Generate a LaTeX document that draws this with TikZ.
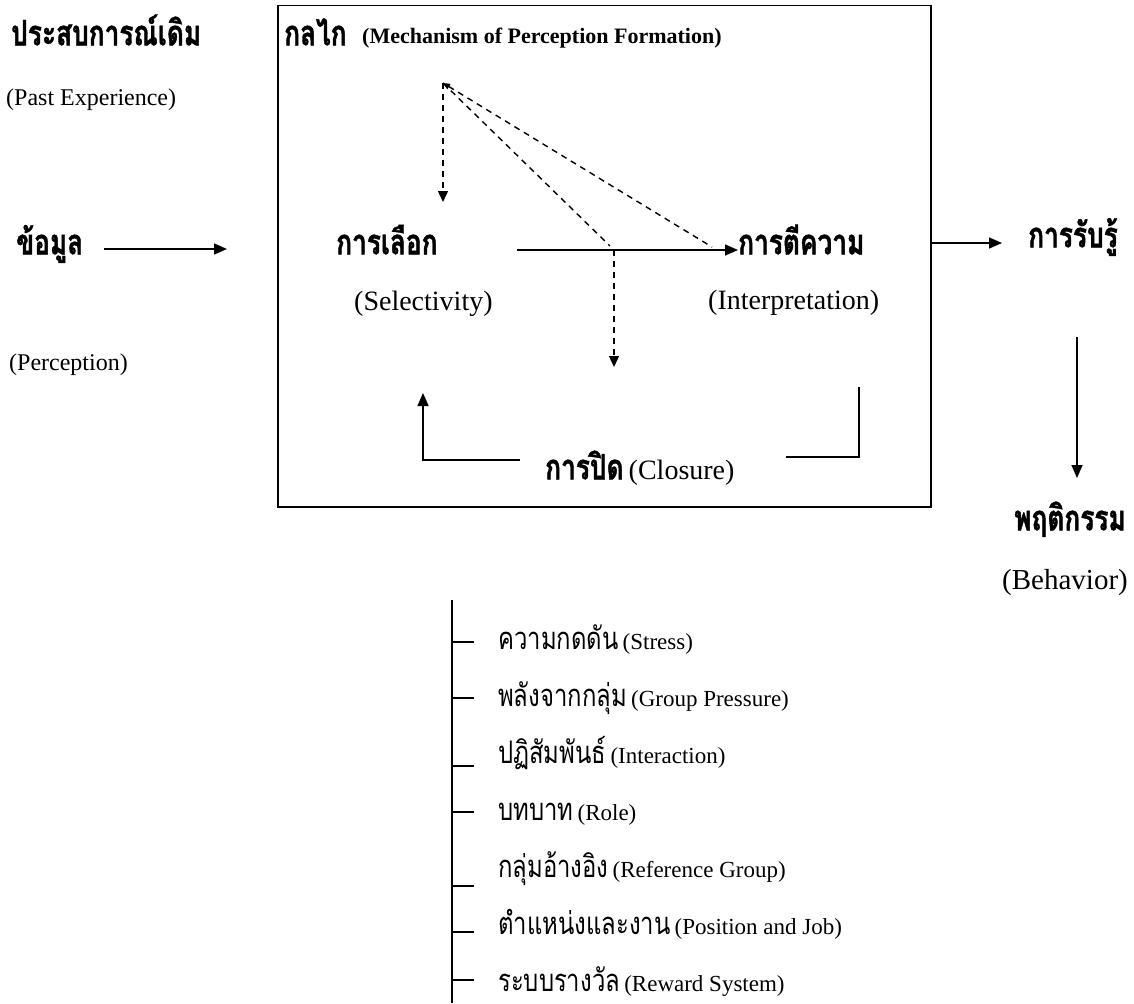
\documentclass[tikz,border=0pt]{standalone}
\usepackage{fontspec}
\setmainfont{Liberation Serif}
\newfontfamily\thai[Script=Thai,FakeStretch=0.75,FakeBold=1.2]{Loma}
\newfontfamily\thail[Script=Thai,FakeStretch=0.77]{Loma}
\usetikzlibrary{arrows.meta}
\begin{document}
\begin{tikzpicture}[x=1pt,y=-1pt,
  thb/.style={font=\thai\bfseries\fontsize{35}{39}\selectfont, inner sep=0pt, anchor=mid west},
  thr/.style={font=\thail\fontsize{31}{35}\selectfont, inner sep=0pt, anchor=mid west},
  en/.style={font=\fontsize{24}{28}\selectfont, inner sep=0pt, anchor=mid west},
  enl/.style={font=\fontsize{28}{32}\selectfont, inner sep=0pt, anchor=mid west},
  enb/.style={font=\bfseries\fontsize{22}{26}\selectfont, inner sep=0pt, anchor=mid west},
  ens/.style={font=\fontsize{23}{27}\selectfont, inner sep=0pt, anchor=base west},
  arr/.style={-{Triangle[length=13pt,width=11pt]}, line width=1.5pt},
  sarr/.style={-{Triangle[length=11pt,width=10pt]}, line width=1.4pt},
  dsh/.style={dash pattern=on 6pt off 5pt, line width=1.4pt},
  ln/.style={line width=1.5pt}]
\useasboundingbox (0,0) rectangle (1134,1003);

% left column
\node[thb] (past) at (11,43) {ประสบการณ์เดิม};
\node[en] (pastE) at (6,103) {(Past Experience)};
\node[thb] (data) at (16,252) {ข้อมูล};
\node[en] (perc) at (9,368) {(Perception)};
\coordinate (dataA) at (104,249);
\coordinate (dataB) at (227,249);
\draw[arr] (dataA) -- (dataB);

% box
\node[draw, line width=1.5pt, minimum width=653pt, minimum height=501pt, anchor=north west, inner sep=0pt] (box) at (277,5) {};

\node[thb] (mech) at (284,43) {กลไก};
\node[enb] (mechE) at (362,41) {(Mechanism of Perception Formation)};

\coordinate (apex) at (443,83);
\coordinate (apexD) at (443,202);
\draw[dsh, sarr] (apex) -- (apexD);

\node[thb] (sel) at (336,252) {การเลือก};
\node[enl] (selE) at (354,308) {(Selectivity)};
\node[thb] (int) at (738,252) {การตีความ};
\node[enl] (intE) at (708,307) {(Interpretation)};

\coordinate (selR) at (517,250);
\coordinate (mid) at (614,250);
\draw[arr] (selR) -- (int.west |- selR);
\draw[dsh] (apex) -- (610,246);
\draw[dsh, {Triangle[length=7pt,width=6pt]}-] (apex) -- (712,247);
\coordinate (midD) at (614,367);
\draw[dsh, sarr] (mid) -- (midD);

% closure loop
\node[thb] (clo) at (545,477) {การปิด};
\node[enl, anchor=base west] (cloE) at (clo.base east) {\,(Closure)};
\coordinate (cl1) at (520,460);
\coordinate (cl2) at (423,460);
\coordinate (cl3) at (423,393);
\draw[arr] (cl1) -- (cl2) -- (cl3);
\coordinate (cr1) at (786,457);
\coordinate (cr2) at (859,457);
\coordinate (cr3) at (859,387);
\draw[ln] (cr1) -- (cr2) -- (cr3);

% right column
\node[thb] (perc2) at (1028,245) {การรับรู้};
\draw[arr] (box.east |- 0,243) -- (1002,243);
\coordinate (dA) at (1077,337);
\coordinate (dB) at (1077,478);
\draw[arr] (dA) -- (dB);
\node[thb, anchor=mid] (beh) at (1070,528) {พฤติกรรม};
\node[enl, anchor=mid east, font=\fontsize{29}{33}\selectfont] (behE) at (1128,587) {(Behavior)};

% list
\coordinate (lt) at (452,600);
\coordinate (lb) at (452,1003);
\draw[ln] (lt) -- (lb);
\foreach \tx/\eng/\dd [count=\k from 0] in {
  ความกดดัน/Stress/-5,
  พลังจากกลุ่ม/Group Pressure/-6,
  ปฏิสัมพันธ์/Interaction/5,
  บทบาท/Role/-6,
  กลุ่มอ้างอิง/Reference Group/11,
  ตำแหน่งและงาน/Position and Job/0,
  ระบบรางวัล/Reward System/-9}{
  \pgfmathsetmacro{\yy}{647+\k*57}
  \draw[line width=1.3pt] (452,\yy+\dd) -- (474,\yy+\dd);
  \node[thr] (L\k) at (498,\yy) {\tx};
  \node[ens] at (L\k.base east) {\,(\eng)};
}
\end{tikzpicture}
\end{document}
